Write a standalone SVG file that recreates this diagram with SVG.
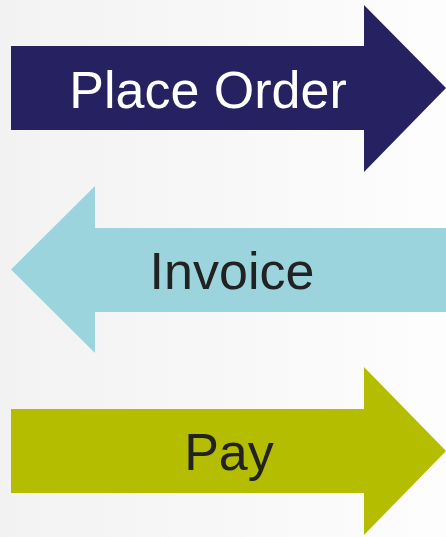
<svg xmlns="http://www.w3.org/2000/svg" width="446" height="537" viewBox="0 0 446 537">
  <defs>
    <linearGradient id="bg" x1="0" y1="0" x2="1" y2="0">
      <stop offset="0" stop-color="#f2f2f2"/>
      <stop offset="1" stop-color="#fdfdfd"/>
    </linearGradient>
  </defs>
  <style>
    .lbl { font-family: "Liberation Sans", Arial, sans-serif; font-size: 52px; text-anchor: middle; }
    .light { fill: #ffffff; }
    .dark { fill: #222222; }
  </style>
  <rect x="0" y="0" width="446" height="537" fill="url(#bg)"/>
  <g id="place-order">
    <polygon points="11,46 364,46 364,5 446,88 364,172 364,130 11,130" fill="#262262"/>
    <text class="lbl light" x="208" y="108">Place Order</text>
  </g>
  <g id="invoice">
    <polygon points="446,228 95,228 95,186 11,269.5 95,353 95,312 446,312" fill="#9bd4dd"/>
    <text class="lbl dark" x="232" y="289">Invoice</text>
  </g>
  <g id="pay">
    <polygon points="11,409 364,409 364,367 446,451 364,535 364,493 11,493" fill="#b5bd00"/>
    <text class="lbl dark" x="229" y="470">Pay</text>
  </g>
  <g id="connectors"/>
</svg>
